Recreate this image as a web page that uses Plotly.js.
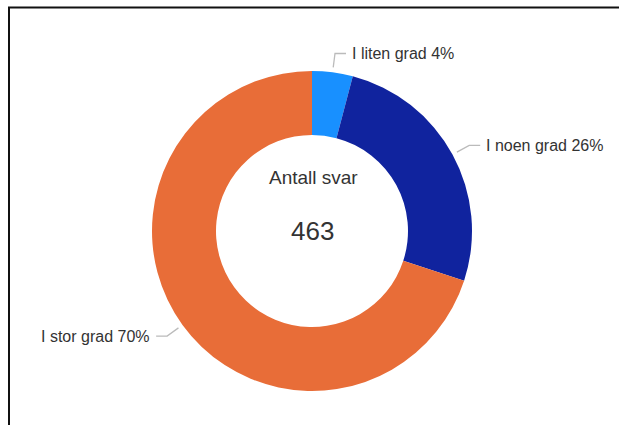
<!DOCTYPE html>
<html>
<head>
<meta charset="utf-8">
<script src="https://cdn.plot.ly/plotly-3.0.1.min.js"></script>
<style>
  html, body { margin: 0; padding: 0; background: #ffffff; }
  #chart { width: 619px; height: 425px; }
</style>
</head>
<body>
<div id="chart"></div>
<script>
// ---- data ----
const categories = ["I liten grad", "I noen grad", "I stor grad"];
const counts = [19, 120, 324];
const percentLabels = ["4%", "26%", "70%"];
const colors = ["#1890ff", "#10239e", "#e86d38"];
const centerTitle = "Antall svar";
const total = counts.reduce((a, b) => a + b, 0);

// ---- layout geometry (pixels) ----
const W = 619, H = 425;
const cx = 312, cy = 231, R = 160;

const px = x => x / W;
const py = y => 1 - y / H;
const FONT = "Liberation Sans, Arial, sans-serif";

const shapes = [
  // frame
  { type: "line", xref: "paper", yref: "paper", x0: px(8), x1: px(619), y0: py(7.5), y1: py(7.5),
    line: { color: "#111", width: 2 } },
  { type: "line", xref: "paper", yref: "paper", x0: px(9), x1: px(9), y0: py(7), y1: py(425),
    line: { color: "#111", width: 2 } }
];
const annotations = [
  { text: centerTitle, xref: "paper", yref: "paper", x: px(cx + 1), y: py(177), showarrow: false,
    font: { family: FONT, size: 19, color: "#333" } },
  { text: String(total), xref: "paper", yref: "paper", x: px(cx), y: py(231), showarrow: false,
    font: { family: FONT, size: 26, color: "#333" } }
];

// leader lines and outside labels, positioned from the slice angles
let cum = 0;
counts.forEach((v, i) => {
  const mid = (cum + v / 2) / total;
  cum += v;
  const th = (90 - 360 * mid) * Math.PI / 180;
  const c = Math.cos(th), s = Math.sin(th);
  const x0 = cx + (R + 5) * c, y0 = cy - (R + 5) * s;
  const x1 = cx + (R + 19) * c, y1 = cy - (R + 19) * s;
  const dir = c >= 0 ? 1 : -1;
  const x2 = x1 + dir * 11;
  shapes.push({ type: "path", xref: "paper", yref: "paper",
    path: `M ${px(x0)},${py(y0)} L ${px(x1)},${py(y1)} L ${px(x2)},${py(y1)}`,
    line: { color: "#bbb", width: 1.3 } });
  annotations.push({ text: categories[i] + " " + percentLabels[i], xref: "paper", yref: "paper",
    x: px(x2 + dir * 4), y: py(y1), xanchor: dir > 0 ? "left" : "right", yanchor: "middle",
    showarrow: false, font: { family: FONT, size: 16, color: "#333" } });
});

const trace = {
  type: "pie",
  labels: categories,
  values: counts,
  hole: 0.6,
  sort: false,
  direction: "clockwise",
  rotation: 0,
  textinfo: "none",
  hoverinfo: "label+percent",
  marker: { colors: colors, line: { width: 0 } },
  domain: { x: [px(cx - R), px(cx + R)], y: [py(cy + R), py(cy - R)] },
  showlegend: false
};

Plotly.newPlot("chart", [trace], {
  width: W, height: H,
  margin: { l: 0, r: 0, t: 0, b: 0 },
  paper_bgcolor: "#ffffff",
  showlegend: false,
  shapes: shapes,
  annotations: annotations
}, { displayModeBar: false, staticPlot: true });
</script>
</body>
</html>
